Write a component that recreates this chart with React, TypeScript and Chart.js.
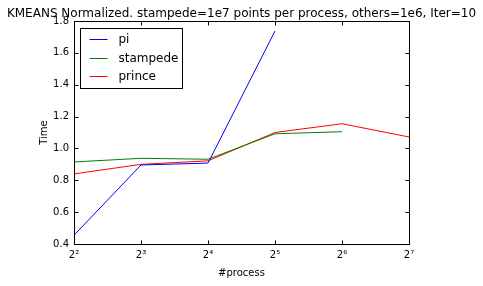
import React, { useEffect, useRef } from 'react';
import { Chart, registerables } from 'chart.js';

Chart.register(...registerables);

const titleText = 'KMEANS Normalized. stampede=1e7 points per process, others=1e6, Iter=10';
const processes = [4, 8, 16, 32, 64, 128];
const xTickLabels = ['2²', '2³', '2⁴', '2⁵', '2⁶', '2⁷'];
const yTickValues = [0.4, 0.6, 0.8, 1.0, 1.2, 1.4, 1.6, 1.8];
const piTimes = [0.455, 0.896, 0.908, 1.737, null, null];
const stampedeTimes = [0.915, 0.938, 0.932, 1.092, 1.105, null];
const princeTimes = [0.84, 0.9, 0.922, 1.1, 1.155, 1.072];
const seriesNames = ['pi', 'stampede', 'prince'];
const seriesColors = ['#0000ff', '#008000', '#ff0000'];

const FONT = '"DejaVu Sans", sans-serif';

function toPoints(vals: (number | null)[]) {
  const pts: { x: number; y: number }[] = [];
  vals.forEach((v, i) => {
    if (v !== null) pts.push({ x: processes[i], y: v });
  });
  return pts;
}

const decorPlugin = {
  id: 'decor',
  afterDraw(chart: any) {
    const ctx = chart.ctx as CanvasRenderingContext2D;
    const { left, right, top, bottom } = chart.chartArea;
    const xs = chart.scales.x;
    const ys = chart.scales.y;
    const L = Math.round(left) + 0.5;
    const R = Math.round(right) + 0.5;
    const T = Math.round(top) + 0.5;
    const B = Math.round(bottom) + 0.5;
    ctx.save();
    ctx.strokeStyle = '#000';
    ctx.lineWidth = 1;
    // ticks inward
    ctx.beginPath();
    yTickValues.forEach((v) => {
      const y = Math.round(ys.getPixelForValue(v)) + 0.5;
      ctx.moveTo(L, y);
      ctx.lineTo(L + 4, y);
      ctx.moveTo(R, y);
      ctx.lineTo(R - 4, y);
    });
    processes.forEach((v) => {
      const x = Math.round(xs.getPixelForValue(v)) + 0.5;
      ctx.moveTo(x, B);
      ctx.lineTo(x, B - 4);
      ctx.moveTo(x, T);
      ctx.lineTo(x, T + 4);
    });
    ctx.stroke();
    // frame
    ctx.strokeRect(L, T, R - L, B - T);

    // title
    ctx.fillStyle = '#000';
    ctx.font = `12px ${FONT}`;
    ctx.textAlign = 'center';
    ctx.textBaseline = 'alphabetic';
    ctx.fillText(titleText, (left + right) / 2, 16.5);

    // axis titles
    ctx.font = `10px ${FONT}`;
    ctx.textBaseline = 'middle';
    ctx.fillText('#process', (left + right) / 2, 273);
    ctx.save();
    ctx.translate(44, (top + bottom) / 2);
    ctx.rotate(-Math.PI / 2);
    ctx.fillText('Time', 0, 0);
    ctx.restore();

    // legend
    const lx = Math.round(left) + 6.5;
    const ly = Math.round(top) + 7.5;
    ctx.fillStyle = '#fff';
    ctx.fillRect(lx, ly, 102, 60);
    ctx.strokeStyle = '#000';
    ctx.strokeRect(lx, ly, 102, 60);
    ctx.font = `12px ${FONT}`;
    ctx.textAlign = 'left';
    ctx.textBaseline = 'middle';
    seriesNames.forEach((name, i) => {
      const y = Math.round(ly + 10.5 + i * 18.5) + 0.5;
      ctx.strokeStyle = seriesColors[i];
      ctx.beginPath();
      ctx.moveTo(lx + 9, y);
      ctx.lineTo(lx + 27, y);
      ctx.stroke();
      ctx.fillStyle = '#000';
      ctx.fillText(name, lx + 38, y);
    });
    ctx.restore();
  },
};

export default function App() {
  const ref = useRef<HTMLCanvasElement | null>(null);
  useEffect(() => {
    if (!ref.current) return;
    const allSeries = [piTimes, stampedeTimes, princeTimes];
    const chart = new Chart(ref.current, {
      type: 'line',
      data: {
        datasets: allSeries.map((vals, i) => ({
          label: seriesNames[i],
          data: toPoints(vals),
          borderColor: seriesColors[i],
          backgroundColor: seriesColors[i],
          borderWidth: 1,
          pointRadius: 0,
          tension: 0,
          fill: false,
        })),
      },
      options: {
        animation: false,
        responsive: false,
        maintainAspectRatio: false,
        devicePixelRatio: 1,
        layout: { padding: { top: 21, right: 74, left: 0, bottom: 0 } },
        plugins: {
          legend: { display: false },
          title: { display: false },
          tooltip: { enabled: false },
        },
        scales: {
          x: {
            type: 'logarithmic',
            min: 4,
            max: 128,
            grid: { display: false, drawTicks: false },
            border: { display: false },
            afterBuildTicks: (scale: any) => {
              scale.ticks = processes.map((v) => ({ value: v }));
            },
            afterFit: (scale: any) => {
              scale.height = 42;
            },
            ticks: {
              autoSkip: false,
              maxRotation: 0,
              padding: 5,
              color: '#000',
              font: { family: FONT, size: 10 },
              callback: (value: any) => {
                const idx = processes.indexOf(Number(value));
                return idx >= 0 ? xTickLabels[idx] : '';
              },
            },
          },
          y: {
            type: 'linear',
            min: 0.4,
            max: 1.8,
            grid: { display: false, drawTicks: false },
            border: { display: false },
            afterBuildTicks: (scale: any) => {
              scale.ticks = yTickValues.map((v) => ({ value: v }));
            },
            afterFit: (scale: any) => {
              scale.width = 74;
            },
            ticks: {
              padding: 5,
              color: '#000',
              font: { family: FONT, size: 10 },
              callback: (value: any) => Number(value).toFixed(1),
            },
          },
        },
      },
      plugins: [decorPlugin],
    });
    return () => chart.destroy();
  }, []);
  return (
    <div style={{ position: 'fixed', left: 0, top: 0, width: 483, height: 286, background: '#fff' }}>
      <canvas ref={ref} width={483} height={286} style={{ width: 483, height: 286, display: 'block' }} />
    </div>
  );
}
